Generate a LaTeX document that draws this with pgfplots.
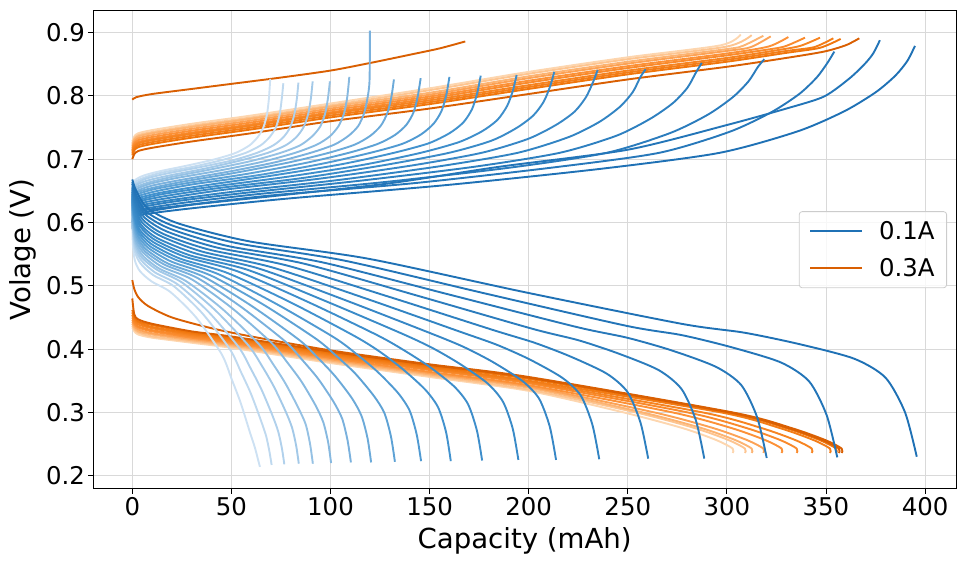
\documentclass[border=0pt]{standalone}
\usepackage{fontspec}
\setmainfont{DejaVu Sans}
\usepackage{pgfplots}
\pgfplotsset{compat=1.18}
\definecolor{bD}{RGB}{31,113,181}
\definecolor{bM}{RGB}{66,146,206}
\definecolor{bL}{RGB}{205,225,243}
\definecolor{oD}{RGB}{217,95,2}
\definecolor{oA}{RGB}{240,118,12}
\definecolor{oM}{RGB}{252,145,55}
\definecolor{oL}{RGB}{253,214,175}
\definecolor{gridc}{RGB}{217,217,217}
\definecolor{legc}{RGB}{204,204,204}
\colorlet{b1}{bD}
\colorlet{b2}{bD!89!bM}
\colorlet{b3}{bD!78!bM}
\colorlet{b4}{bD!67!bM}
\colorlet{b5}{bD!56!bM}
\colorlet{b6}{bD!44!bM}
\colorlet{b7}{bD!33!bM}
\colorlet{b8}{bD!22!bM}
\colorlet{b9}{bD!11!bM}
\colorlet{b10}{bM}
\colorlet{b11}{bM!90!bL}
\colorlet{b12}{bM!80!bL}
\colorlet{b13}{bM!70!bL}
\colorlet{b14}{bM!60!bL}
\colorlet{b15}{bM!50!bL}
\colorlet{b16}{bM!40!bL}
\colorlet{b17}{bM!30!bL}
\colorlet{b18}{bM!20!bL}
\colorlet{b19}{bM!10!bL}
\colorlet{b20}{bL}
\colorlet{o1}{oD}
\colorlet{o2}{oD}
\colorlet{o3}{oA}
\colorlet{o4}{oA!75!oM}
\colorlet{o5}{oA!50!oM}
\colorlet{o6}{oA!25!oM}
\colorlet{o7}{oM}
\colorlet{o8}{oM!75!oL}
\colorlet{o9}{oM!50!oL}
\colorlet{o10}{oM!25!oL}
\colorlet{o11}{oL}
\begin{document}
\begin{tikzpicture}
\useasboundingbox (-93.3bp,-77.3bp) rectangle (872.7bp,488.7bp);
\begin{axis}[
  scale only axis, width=862.7bp, height=478bp,
  xmin=-19.68, xmax=415.6, ymin=0.1795, ymax=0.9346,
  xtick={0,50,100,150,200,250,300,350,400},
  ytick={0.2,0.3,0.4,0.5,0.6,0.7,0.8,0.9},
  yticklabel style={/pgf/number format/.cd, fixed, fixed zerofill, precision=1},
  /pgf/number format/assume math mode=true,
  tick label style={font=\fontsize{24.5}{29}\selectfont},
  tick align=outside, tick pos=left, major tick length=4.9bp,
  tick style={black, line width=0.8bp},
  grid=major, major grid style={color=gridc, line width=0.8bp},
  axis line style={line width=0.8bp},
  xlabel={Capacity (mAh)}, ylabel={Volage (V)},
  every axis x label/.style={at={(axis description cs:0.5,-0.1241)}, anchor=base, font=\fontsize{27.7}{33}\selectfont},
  every axis y label/.style={at={(axis description cs:-0.0733,0.5)}, rotate=90, anchor=base, font=\fontsize{27.7}{33}\selectfont},
  every axis plot/.append style={line width=1.9bp, line join=round, smooth, tension=0.45},
  legend image code/.code={\draw[#1, line width=1.9bp] (0bp,0bp) -- (52bp,0bp);},
  legend cell align=left,
  legend style={at={(0.9896,0.5)}, anchor=east, draw=legc, line width=0.8bp,
    rounded corners=3bp, fill=white, fill opacity=0.8, text opacity=1, draw opacity=1,
    font=\fontsize{24.5}{29}\selectfont, inner xsep=10bp, inner ysep=8bp, row sep=13bp,
    /tikz/every odd column/.append style={column sep=14bp}},
]
\addlegendimage{color=bD}
\addlegendentry{0.1A}
\addlegendimage{color=oD}
\addlegendentry{0.3A}

% ---------- 0.3 A charge ----------
\addplot[o1] coordinates {(0,0.794) (2,0.798) (10,0.803) (30,0.811) (50,0.819) (75,0.829) (100,0.840) (120,0.852) (140,0.865) (155,0.875) (168,0.886)};
\addplot[o11] coordinates {(0,0.728) (1,0.736) (3,0.741) (10,0.746) (30,0.756) (60,0.769) (100,0.788) (150,0.812) (200,0.838) (250,0.861) (297,0.880) (307,0.897)};
\addplot[o10] coordinates {(0,0.725) (1,0.733) (3,0.738) (10,0.743) (30,0.753) (60,0.766) (100,0.785) (150,0.809) (200,0.835) (250,0.858) (300,0.878) (312.5,0.896)};
\addplot[o9] coordinates {(0,0.723) (1,0.731) (3,0.736) (10,0.741) (30,0.751) (60,0.764) (100,0.783) (150,0.805) (200,0.831) (250,0.854) (300,0.874) (308,0.879) (318.4,0.895)};
\addplot[o8] coordinates {(0,0.720) (1,0.728) (3,0.733) (10,0.738) (30,0.748) (60,0.761) (100,0.780) (150,0.802) (200,0.828) (250,0.851) (300,0.871) (312,0.877) (322.1,0.894)};
\addplot[o7] coordinates {(0,0.717) (1,0.725) (3,0.730) (10,0.735) (30,0.745) (60,0.758) (100,0.777) (150,0.799) (200,0.824) (250,0.847) (300,0.867) (321,0.878) (331,0.893)};
\addplot[o6] coordinates {(0,0.714) (1,0.722) (3,0.727) (10,0.732) (30,0.742) (60,0.755) (100,0.774) (150,0.796) (200,0.821) (250,0.844) (300,0.864) (318,0.872) (329,0.878) (339.4,0.892)};
\addplot[o5] coordinates {(0,0.712) (1,0.720) (3,0.725) (10,0.730) (30,0.740) (60,0.753) (100,0.772) (150,0.793) (200,0.817) (250,0.840) (300,0.860) (325,0.872) (337,0.879) (347,0.892)};
\addplot[o4] coordinates {(0,0.709) (1,0.717) (3,0.722) (10,0.727) (30,0.737) (60,0.750) (100,0.769) (150,0.790) (200,0.814) (250,0.837) (300,0.857) (330,0.871) (344,0.877) (353.7,0.891)};
\addplot[o3] coordinates {(0,0.706) (1,0.714) (3,0.719) (10,0.724) (30,0.734) (60,0.747) (100,0.766) (150,0.787) (200,0.811) (250,0.834) (300,0.854) (330,0.868) (347,0.876) (357.4,0.890)};
\addplot[o2] coordinates {(0,0.700) (1,0.708) (3,0.713) (10,0.718) (30,0.728) (60,0.741) (100,0.760) (150,0.780) (200,0.803) (250,0.826) (300,0.846) (330,0.860) (349,0.870) (360,0.880) (366.8,0.891)};

% ---------- 0.3 A discharge ----------
\addplot[o11] coordinates {(0,0.434) (1,0.428) (3,0.423) (10,0.418) (30,0.410) (50,0.402) (100,0.378) (150,0.356) (200,0.334) (247.9,0.300) (277.9,0.275) (294.9,0.256) (302.9,0.243) (302.9,0.236)};
\addplot[o10] coordinates {(0,0.437) (1,0.431) (3,0.426) (10,0.420) (30,0.412) (50,0.404) (100,0.380) (150,0.358) (200,0.336) (254.1,0.300) (284.1,0.275) (301.1,0.256) (309.1,0.243) (309.1,0.236)};
\addplot[o9] coordinates {(0,0.440) (1,0.434) (3,0.428) (10,0.423) (30,0.414) (50,0.406) (100,0.382) (150,0.360) (200,0.339) (257.5,0.300) (287.5,0.275) (304.5,0.256) (312.5,0.243) (312.5,0.236)};
\addplot[o8] coordinates {(0,0.443) (1,0.437) (3,0.431) (10,0.425) (30,0.416) (50,0.408) (100,0.384) (150,0.362) (200,0.341) (263.4,0.300) (293.4,0.275) (310.4,0.256) (318.4,0.243) (318.4,0.236)};
\addplot[o7] coordinates {(0,0.446) (1,0.440) (3,0.434) (10,0.428) (30,0.418) (50,0.410) (100,0.386) (150,0.364) (200,0.343) (272.6,0.300) (302.6,0.275) (319.6,0.256) (327.6,0.243) (327.6,0.236)};
\addplot[o6] coordinates {(0,0.450) (1,0.443) (3,0.436) (10,0.430) (30,0.420) (50,0.412) (100,0.388) (150,0.367) (200,0.346) (280.2,0.300) (310.2,0.275) (327.2,0.256) (335.2,0.243) (335.2,0.236)};
\addplot[o5] coordinates {(0,0.454) (1,0.446) (3,0.439) (10,0.433) (30,0.422) (50,0.414) (100,0.390) (150,0.369) (200,0.348) (287.8,0.300) (317.8,0.275) (334.8,0.256) (342.8,0.243) (342.8,0.236)};
\addplot[o4] coordinates {(0,0.458) (1,0.449) (3,0.442) (10,0.435) (30,0.424) (50,0.416) (100,0.392) (150,0.371) (200,0.350) (297,0.300) (327,0.275) (344,0.256) (352,0.243) (352,0.236)};
\addplot[o3] coordinates {(0,0.462) (1,0.452) (3,0.444) (10,0.438) (30,0.426) (50,0.418) (100,0.394) (150,0.373) (200,0.353) (300.1,0.300) (330.1,0.275) (347.1,0.256) (355.1,0.243) (355.1,0.236)};
\addplot[o2] coordinates {(0,0.480) (1,0.455) (3,0.447) (10,0.440) (30,0.428) (50,0.420) (100,0.396) (150,0.375) (200,0.355) (301.5,0.300) (331.5,0.275) (348.5,0.256) (356.5,0.243) (356.5,0.236)};
\addplot[o1] coordinates {(0,0.509) (1,0.495) (3,0.482) (8,0.468) (20,0.450) (40,0.433) (60,0.420) (100,0.398) (150,0.376) (200,0.356) (302.9,0.300) (332.9,0.275) (349.9,0.256) (357.9,0.243) (357.9,0.236)};

% ---------- 0.1 A charge ----------
\addplot[b20] coordinates {(0,0.625) (0.2,0.655) (1.0,0.666) (5.6,0.674) (13.9,0.681) (27.8,0.690) (41.8,0.700) (52.2,0.710) (59.2,0.722) (63.3,0.735) (66.1,0.750) (67.9,0.770) (68.9,0.795) (69.6,0.827)};
\addplot[b19] coordinates {(0,0.623) (0.2,0.652) (1.1,0.663) (6.1,0.671) (15.2,0.679) (30.5,0.688) (45.7,0.699) (57.2,0.710) (64.8,0.722) (69.3,0.735) (72.4,0.750) (74.3,0.770) (75.4,0.795) (76.2,0.820)};
\addplot[b18] coordinates {(0,0.621) (0.3,0.650) (1.3,0.660) (6.7,0.669) (16.8,0.677) (33.5,0.687) (50.3,0.698) (62.9,0.710) (71.2,0.722) (76.3,0.735) (79.6,0.750) (81.7,0.770) (83.0,0.795) (83.8,0.821)};
\addplot[b17] coordinates {(0,0.620) (0.3,0.647) (1.4,0.658) (7.3,0.666) (18.2,0.674) (36.4,0.685) (54.6,0.698) (68.3,0.710) (77.4,0.722) (82.8,0.735) (86.5,0.751) (88.7,0.771) (90.1,0.796) (91.0,0.823)};
\addplot[b16] coordinates {(0,0.618) (0.3,0.645) (1.5,0.655) (8.0,0.663) (19.9,0.672) (39.9,0.684) (59.8,0.697) (74.8,0.710) (84.7,0.722) (90.7,0.736) (94.7,0.751) (97.2,0.771) (98.7,0.796) (99.7,0.823)};
\addplot[b15] coordinates {(0,0.616) (0.3,0.642) (1.6,0.652) (8.8,0.661) (21.9,0.670) (43.8,0.682) (65.7,0.696) (82.1,0.710) (93.1,0.723) (99.6,0.736) (104.0,0.752) (106.8,0.772) (108.4,0.797) (109.5,0.830)};
\addplot[b14] coordinates {(0,0.614) (0.4,0.640) (1.8,0.649) (9.6,0.658) (24.0,0.667) (48.0,0.680) (71.9,0.695) (89.9,0.710) (101.9,0.723) (109.1,0.737) (113.9,0.752) (116.9,0.772) (118.7,0.797) (119.7,0.825) (119.9,0.903)};
\addplot[b13] coordinates {(0,0.612) (0.4,0.637) (2.0,0.647) (10.6,0.655) (26.4,0.665) (52.8,0.679) (79.2,0.695) (99.0,0.710) (112.2,0.723) (120.1,0.737) (125.4,0.753) (128.7,0.773) (130.7,0.798) (132.0,0.826)};
\addplot[b12] coordinates {(0,0.610) (0.4,0.635) (2.2,0.644) (11.6,0.653) (29.1,0.663) (58.2,0.677) (87.3,0.694) (109.1,0.710) (123.7,0.724) (132.4,0.738) (138.2,0.754) (141.9,0.774) (144.0,0.799) (145.5,0.828)};
\addplot[b11] coordinates {(0,0.608) (0.5,0.632) (2.4,0.641) (12.8,0.650) (32.0,0.661) (64.0,0.675) (96.0,0.693) (120.0,0.710) (136.0,0.724) (145.6,0.739) (152.0,0.756) (156.0,0.776) (158.4,0.801) (160.0,0.830)};
\addplot[b10] coordinates {(0,0.607) (0.5,0.630) (2.6,0.638) (14.1,0.647) (35.2,0.658) (70.3,0.674) (105.5,0.692) (131.9,0.710) (149.4,0.725) (160.0,0.741) (167.0,0.758) (171.4,0.779) (174.0,0.804) (175.8,0.832)};
\addplot[b9] coordinates {(0,0.605) (0.6,0.627) (2.9,0.635) (15.5,0.645) (38.8,0.656) (77.6,0.672) (116.3,0.691) (145.4,0.710) (164.8,0.727) (176.4,0.744) (184.2,0.762) (189.1,0.784) (192.0,0.808) (193.9,0.833)};
\addplot[b8] coordinates {(0,0.603) (0.6,0.625) (3.2,0.633) (17.0,0.642) (42.6,0.654) (85.2,0.670) (127.7,0.691) (159.7,0.710) (181.0,0.729) (193.7,0.749) (202.3,0.769) (207.6,0.791) (210.8,0.815) (212.9,0.838)};
\addplot[b7] coordinates {(0,0.601) (0.7,0.622) (3.5,0.630) (18.8,0.639) (47.0,0.652) (93.9,0.669) (140.9,0.690) (176.1,0.710) (199.6,0.732) (213.7,0.754) (223.1,0.775) (228.9,0.798) (232.5,0.822) (234.8,0.841)};
\addplot[b6] coordinates {(0,0.599) (0.8,0.620) (3.9,0.627) (20.7,0.636) (51.8,0.649) (103.6,0.667) (155.4,0.689) (194.3,0.710) (220.2,0.735) (235.7,0.759) (246.1,0.783) (252.5,0.806) (256.4,0.830) (259.0,0.842)};
\addplot[b5] coordinates {(0,0.597) (0.9,0.617) (4.3,0.624) (23.0,0.634) (57.5,0.647) (114.9,0.666) (172.4,0.688) (215.5,0.710) (244.2,0.737) (261.4,0.764) (272.9,0.789) (280.1,0.813) (284.4,0.837) (287.3,0.852)};
\addplot[b4] coordinates {(0,0.596) (1.0,0.615) (4.8,0.621) (25.5,0.631) (63.8,0.645) (127.6,0.664) (191.3,0.687) (239.2,0.710) (271.1,0.741) (290.2,0.770) (303.0,0.798) (310.9,0.823) (315.7,0.846) (318.9,0.858)};
\addplot[b3] coordinates {(0,0.594) (1.1,0.612) (5.3,0.619) (28.3,0.628) (70.8,0.643) (141.7,0.662) (212.5,0.687) (265.7,0.710) (301.1,0.743) (322.3,0.774) (336.5,0.803) (345.3,0.829) (350.7,0.852) (354.2,0.870)};
\addplot[b2] coordinates {(0,0.592) (1.1,0.610) (5.7,0.616) (30,0.628) (75,0.643) (130,0.662) (185,0.688) (250,0.715) (300,0.754) (330,0.780) (349,0.799) (362,0.828) (370,0.852) (374,0.868) (377.2,0.888)};
\addplot[b1] coordinates {(0,0.590) (1.2,0.607) (5.9,0.613) (31.6,0.623) (79.0,0.638) (158.0,0.659) (236.9,0.685) (296.2,0.710) (335.7,0.744) (359.4,0.776) (375.2,0.806) (385.0,0.832) (391.0,0.855) (394.9,0.879)};

% ---------- 0.1 A discharge ----------
\addplot[b20] coordinates {(0,0.600) (0.3,0.565) (1.3,0.540) (3.9,0.523) (9.7,0.507) (19.3,0.490) (32.2,0.450) (45.1,0.392) (50.2,0.352) (54.7,0.315) (59.2,0.270) (61.8,0.245) (63.4,0.226) (64.4,0.214)};
\addplot[b19] coordinates {(0,0.611) (0.4,0.579) (1.4,0.553) (4.2,0.535) (10.5,0.517) (21.1,0.499) (35.2,0.457) (49.2,0.400) (54.8,0.364) (59.8,0.330) (64.7,0.289) (67.5,0.263) (69.2,0.238) (70.3,0.217)};
\addplot[b18] coordinates {(0,0.615) (0.4,0.584) (1.5,0.559) (4.6,0.540) (11.5,0.521) (23.0,0.502) (38.4,0.459) (53.7,0.403) (59.8,0.369) (65.2,0.336) (70.6,0.296) (73.6,0.270) (75.5,0.243) (76.7,0.218)};
\addplot[b17] coordinates {(0,0.619) (0.4,0.589) (1.7,0.563) (5.0,0.544) (12.6,0.525) (25.2,0.505) (42.0,0.461) (58.8,0.405) (65.5,0.373) (71.4,0.341) (77.3,0.302) (80.6,0.276) (82.7,0.247) (84.0,0.219)};
\addplot[b16] coordinates {(0,0.622) (0.5,0.593) (1.8,0.567) (5.5,0.547) (13.7,0.527) (27.3,0.507) (45.6,0.463) (63.8,0.408) (71.1,0.376) (77.4,0.345) (83.8,0.307) (87.5,0.281) (89.7,0.250) (91.1,0.219)};
\addplot[b15] coordinates {(0,0.625) (0.5,0.596) (2.0,0.570) (6.0,0.551) (15.0,0.530) (30.1,0.510) (50.2,0.465) (70.2,0.410) (78.2,0.379) (85.3,0.349) (92.3,0.312) (96.3,0.285) (98.8,0.253) (100.3,0.220)};
\addplot[b14] coordinates {(0,0.628) (0.6,0.600) (2.2,0.574) (6.6,0.554) (16.5,0.533) (33.1,0.512) (55.2,0.466) (77.2,0.412) (86.0,0.382) (93.8,0.353) (101.5,0.317) (105.9,0.290) (108.6,0.256) (110.3,0.221)};
\addplot[b13] coordinates {(0,0.631) (0.6,0.603) (2.4,0.577) (7.2,0.557) (18.1,0.535) (36.2,0.514) (60.3,0.468) (84.4,0.414) (94.0,0.385) (102.4,0.357) (110.9,0.322) (115.7,0.294) (118.7,0.259) (120.5,0.221)};
\addplot[b12] coordinates {(0,0.633) (0.7,0.607) (2.7,0.580) (8.0,0.560) (19.9,0.538) (39.8,0.516) (66.3,0.470) (92.8,0.416) (103.4,0.388) (112.6,0.361) (121.9,0.326) (127.2,0.299) (130.5,0.262) (132.5,0.222)};
\addplot[b11] coordinates {(0,0.636) (0.7,0.610) (2.9,0.584) (8.7,0.563) (21.9,0.541) (43.7,0.518) (72.9,0.471) (102.0,0.418) (113.6,0.391) (123.8,0.364) (134.0,0.331) (139.9,0.303) (143.5,0.265) (145.7,0.223)};
\addplot[b10] coordinates {(0,0.639) (0.8,0.614) (3.2,0.587) (9.6,0.566) (24.1,0.543) (48.2,0.520) (80.4,0.473) (112.5,0.420) (125.3,0.395) (136.6,0.368) (147.8,0.336) (154.3,0.308) (158.3,0.269) (160.7,0.223)};
\addplot[b9] coordinates {(0,0.642) (0.9,0.617) (3.5,0.590) (10.6,0.569) (26.5,0.546) (53.0,0.523) (88.3,0.475) (123.6,0.422) (137.7,0.397) (150.0,0.372) (162.4,0.341) (169.4,0.313) (173.9,0.271) (176.5,0.224)};
\addplot[b8] coordinates {(0,0.645) (1.0,0.621) (3.9,0.594) (11.7,0.572) (29.2,0.548) (58.4,0.525) (97.4,0.476) (136.4,0.424) (151.9,0.401) (165.6,0.376) (179.2,0.346) (187.0,0.317) (191.9,0.275) (194.8,0.225)};
\addplot[b7] coordinates {(0,0.648) (1.1,0.624) (4.3,0.597) (12.8,0.575) (32.1,0.551) (64.1,0.527) (106.9,0.478) (149.7,0.426) (166.8,0.404) (181.7,0.380) (196.7,0.350) (205.2,0.322) (210.6,0.278) (213.8,0.225)};
\addplot[b6] coordinates {(0,0.651) (1.2,0.628) (4.7,0.601) (14.1,0.579) (35.3,0.554) (70.7,0.529) (117.8,0.480) (164.9,0.428) (183.8,0.407) (200.3,0.384) (216.8,0.355) (226.2,0.327) (232.1,0.281) (235.6,0.226)};
\addplot[b5] coordinates {(0,0.654) (1.3,0.632) (5.2,0.605) (15.6,0.582) (39.0,0.557) (78.1,0.532) (130.2,0.482) (182.2,0.430) (203.0,0.410) (221.3,0.388) (239.5,0.361) (249.9,0.332) (256.4,0.284) (260.3,0.227)};
\addplot[b4] coordinates {(0,0.657) (1.4,0.636) (5.8,0.609) (17.3,0.586) (43.3,0.560) (86.6,0.535) (144.3,0.484) (202.0,0.432) (225.1,0.414) (245.3,0.393) (265.5,0.367) (277.1,0.337) (284.3,0.288) (288.6,0.227)};
\addplot[b3] coordinates {(0,0.661) (1.6,0.641) (6.4,0.613) (19.2,0.590) (48.0,0.563) (96.0,0.537) (160.1,0.486) (224.1,0.435) (249.7,0.418) (272.1,0.398) (294.5,0.372) (307.3,0.343) (315.3,0.292) (320.1,0.228)};
\addplot[b2] coordinates {(0,0.664) (1.8,0.645) (7.1,0.617) (21.3,0.594) (53.4,0.567) (106.7,0.540) (177.9,0.488) (249.0,0.437) (277.4,0.422) (302.3,0.403) (327.2,0.379) (341.5,0.349) (350.3,0.296) (355.7,0.229)};
\addplot[b1] coordinates {(0,0.668) (2.0,0.650) (7.9,0.622) (23.7,0.598) (59.4,0.570) (118.7,0.543) (197.9,0.490) (277.1,0.440) (308.7,0.426) (336.4,0.408) (364.1,0.385) (380.0,0.355) (389.9,0.300) (395.8,0.230)};
\end{axis}
\end{tikzpicture}
\end{document}
